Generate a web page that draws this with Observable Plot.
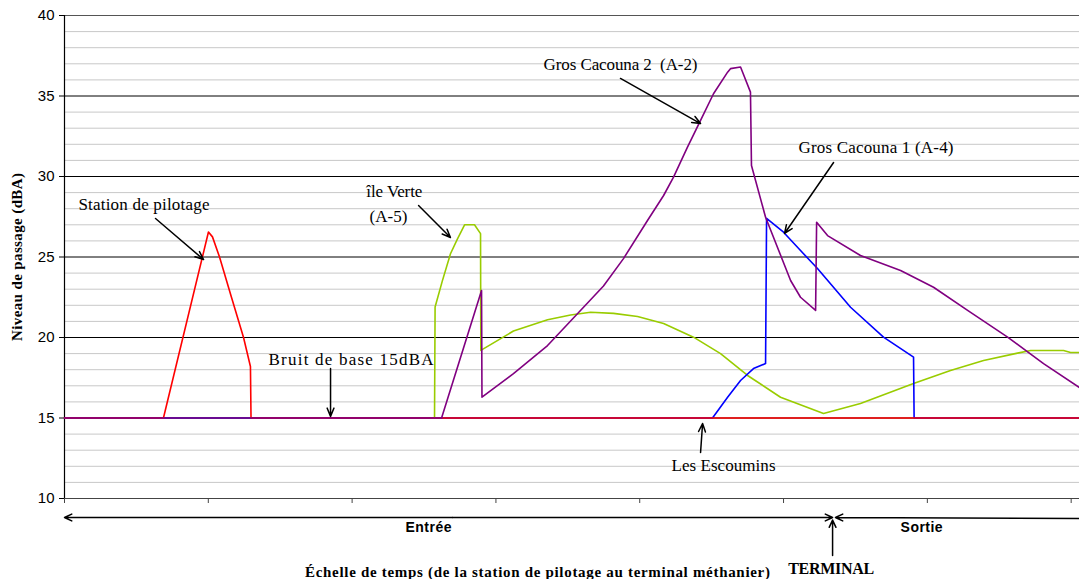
<!DOCTYPE html>
<html><head><meta charset="utf-8">
<script src="https://cdn.jsdelivr.net/npm/d3@7"></script>
<script src="https://cdn.jsdelivr.net/npm/@observablehq/plot@0.6"></script>
<style>body{margin:0;background:#fff;overflow:hidden}</style>
</head><body><div id="chart"></div>
<script>
// Time scale: arbitrary units, one tick every 10 units (no labels on the reference)
const xTicks = [0, 10, 20, 30, 40, 50, 60, 70];
const yTicks = [10, 15, 20, 25, 30, 35, 40];
const yMinor = [11,12,13,14,16,17,18,19,21,22,23,24,26,27,28,29,31,32,33,34,36,37,38,39];

// Station de pilotage (red)
const redX = [0, 6.88, 10.01, 10.29, 10.78, 11.61, 12.45, 12.93, 12.97, 70.58];
const redY = [15, 15, 26.55, 26.25, 25.0, 22.5, 20.0, 18.2, 15, 15];

// Île Verte (A-5) (yellow-green)
const greenX = [0, 25.73, 25.77, 26.27, 26.84, 27.31, 27.82, 28.51, 28.93, 28.95, 31.22, 33.59, 35.19, 36.58, 38.18, 39.85, 41.66, 43.74, 45.62, 47.50, 49.79, 52.78, 55.35, 59.04, 61.61, 63.91, 66.27, 67.18, 69.47, 69.96, 70.58];
const greenY = [15, 15, 21.9, 23.5, 25.2, 26.1, 27.0, 27.0, 26.45, 19.2, 20.4, 21.1, 21.4, 21.57, 21.5, 21.3, 20.87, 20.02, 19.0, 17.64, 16.29, 15.28, 15.9, 17.14, 17.95, 18.57, 19.03, 19.19, 19.19, 19.07, 19.07];

// Gros Cacouna 2 (A-2) (purple)
const purpleX = [0, 26.22, 29.00, 29.03, 31.22, 33.59, 35.88, 37.48, 38.87, 40.54, 41.66, 42.35, 43.32, 44.23, 45.13, 46.11, 46.31, 47.01, 47.70, 47.77, 48.75, 50.49, 51.18, 52.23, 52.30, 53.06, 55.35, 58.14, 60.43, 62.80, 65.58, 68.08, 70.58];
const purpleY = [15, 15, 22.92, 16.29, 17.76, 19.5, 21.68, 23.2, 24.9, 27.27, 28.82, 29.96, 31.82, 33.48, 35.14, 36.48, 36.7, 36.8, 35.24, 30.68, 27.47, 23.54, 22.5, 21.68, 27.16, 26.33, 25.09, 24.16, 23.12, 21.68, 20.02, 18.38, 16.89];

// Gros Cacouna 1 (A-4) (blue)
const blueX = [0, 45.06, 46.11, 47.01, 47.91, 48.75, 48.82, 50.0, 51.18, 52.36, 54.66, 56.95, 59.04, 59.08, 70.58];
const blueY = [15, 15, 16.29, 17.33, 18.07, 18.38, 27.4, 26.54, 25.4, 24.29, 21.88, 20.02, 18.78, 15, 15];

// Annotations (data coordinates)
const labels = ["Station de pilotage", "Bruit de base 15dBA", "île Verte", "(A-5)", "Gros Cacouna 2  (A-2)", "Gros Cacouna 1 (A-4)", "Les Escoumins"];
const labelX = [0.97, 14.19, 20.99, 21.21, 33.31, 51.04, 42.21];
const labelY = [28.26, 18.63, 29.07, 27.52, 36.96, 31.8, 12.05];

const arrowX1 = [6.33, 18.5, 24.62, 38.66, 53.48, 44.23];
const arrowY1 = [27.39, 18.07, 28.2, 36.09, 30.87, 12.86];
const arrowX2 = [9.67, 18.5, 26.84, 44.23, 50.07, 44.37];
const arrowY2 = [24.84, 15.1, 26.21, 33.29, 26.46, 14.66];

// Below-axis phase markers
const phaseNames = ["Entrée", "Sortie"];
const phaseX = [25.31, 59.6];
const terminalX = 53.41;
const axisTitle = "Échelle de temps (de la station de pilotage au terminal méthanier)";
const yTitle = "Niveau de passage (dBA)";

// Rendered text widths of the reference (pixels), applied as textLength
const textWidths = new Map([
  ["Station de pilotage", 131], ["Bruit de base 15dBA", 165], ["île Verte", 56], ["(A-5)", 38],
  ["Gros Cacouna 2  (A-2)", 154], ["Gros Cacouna 1 (A-4)", 155], ["Les Escoumins", 104],
  ["TERMINAL", 86], [axisTitle, 465], [yTitle, 168], ["Entrée", 46], ["Sortie", 42]
]);

const pts = (xs, ys) => xs.map((x, i) => ({x, y: ys[i]}));
const annots = labels.map((t, i) => ({t, x: labelX[i], y: labelY[i]}));
const arrows = arrowX1.map((x1, i) => ({x1, y1: arrowY1[i], x2: arrowX2[i], y2: arrowY2[i]}));
const phases = phaseNames.map((t, i) => ({t, x: phaseX[i], y: 8.2}));
const phaseArrows = [
  {x1: 27, x2: 0, y1: 8.82, y2: 8.82},
  {x1: 27, x2: terminalX, y1: 8.82, y2: 8.82},
  {x1: 70.58, x2: terminalX + 0.2, y1: 8.75, y2: 8.82},
  {x1: terminalX, x2: terminalX, y1: 6.46, y2: 8.66}
];

const serif = "Liberation Serif, Times New Roman, serif";
const sans = "Liberation Sans, Arial, sans-serif";

const chart = Plot.plot({
  width: 1079, height: 579,
  marginLeft: 64, marginRight: 0, marginTop: 15, marginBottom: 81,
  x: {domain: [0, 70.58]},
  y: {domain: [10, 40]},
  style: {background: "#fff", overflow: "visible", fontFamily: sans},
  marks: [
    Plot.ruleY(yMinor, {stroke: "#c8c8c8", strokeWidth: 1}),
    Plot.ruleY([15, 20, 25, 30, 35], {stroke: "#000", strokeWidth: 1}),
    Plot.ruleY([40], {stroke: "#555", strokeWidth: 1}),
    Plot.ruleY([10], {stroke: "#444", strokeWidth: 1.2}),
    Plot.ruleX([0], {stroke: "#000", strokeWidth: 1.2}),
    Plot.axisY({ticks: yTicks, tickSize: 5, tickPadding: 5, fontSize: 15, fontFamily: sans, label: null, stroke: "#000"}),
    Plot.axisX({ticks: xTicks, tickSize: 5, tickFormat: () => "", label: null, stroke: "#444"}),
    Plot.line(pts(greenX, greenY), {x: "x", y: "y", stroke: "#99cc00", strokeWidth: 1.6}),
    Plot.line(pts(blueX, blueY), {x: "x", y: "y", stroke: "#0000ff", strokeWidth: 1.6}),
    Plot.line(pts(redX, redY), {x: "x", y: "y", stroke: "#ff0000", strokeWidth: 1.6}),
    Plot.line(pts(purpleX, purpleY), {x: "x", y: "y", stroke: "#800080", strokeWidth: 1.6}),
    Plot.arrow(arrows, {x1: "x1", y1: "y1", x2: "x2", y2: "y2", stroke: "#000", strokeWidth: 1.5, headLength: 9, headAngle: 45}),
    Plot.text(annots, {x: "x", y: "y", text: "t", textAnchor: "start", fontFamily: serif, fontSize: 17, fill: "#000"}),
    Plot.arrow(phaseArrows, {x1: "x1", y1: "y1", x2: "x2", y2: "y2", stroke: "#000", strokeWidth: 1.5, headLength: 8, headAngle: 50}),
    Plot.text(phases, {x: "x", y: "y", text: "t", fontFamily: sans, fontWeight: "bold", fontSize: 14, fill: "#000"}),
    Plot.text([{t: "TERMINAL", x: terminalX - 0.1, y: 5.65}], {x: "x", y: "y", text: "t", fontFamily: serif, fontWeight: "bold", fontSize: 16, fill: "#000"}),
    Plot.text([{t: axisTitle, x: 32.89, y: 5.4}], {x: "x", y: "y", text: "t", fontFamily: serif, fontWeight: "bold", fontSize: 15, fill: "#000"}),
    Plot.text([yTitle], {frameAnchor: "left", textAnchor: "middle", dx: -47, rotate: -90, text: d => d, fontFamily: serif, fontWeight: "bold", fontSize: 15, fill: "#000"})
  ]
});
d3.select(chart).selectAll("text").each(function() {
  const w = textWidths.get(this.textContent);
  if (w) { this.setAttribute("textLength", w); this.setAttribute("lengthAdjust", "spacing"); }
});
document.getElementById("chart").appendChild(chart);
</script>
</body></html>
